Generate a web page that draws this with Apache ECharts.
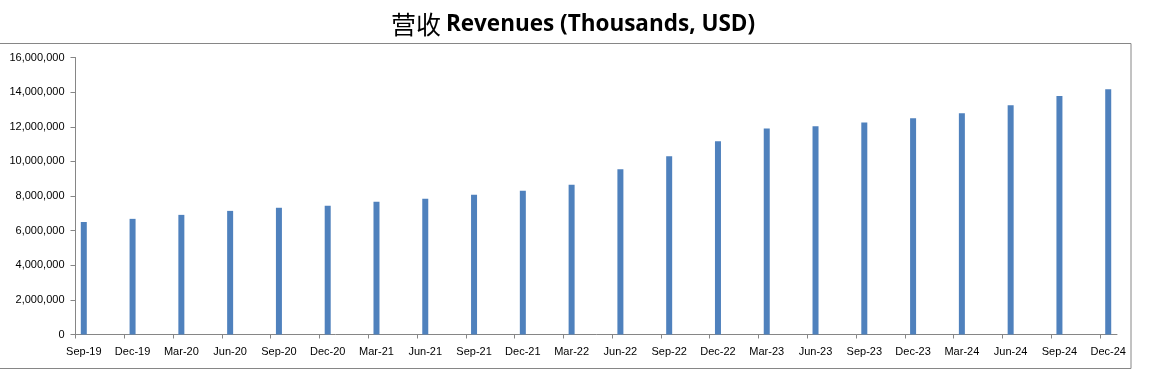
<!DOCTYPE html>
<html>
<head>
<meta charset="utf-8">
<script src="https://cdn.jsdelivr.net/npm/echarts@6/dist/echarts.min.js"></script>
<style>
html,body{margin:0;padding:0;background:#fff;}
#chart{width:1153px;height:373px;}
</style>
</head>
<body>
<div id="chart"></div>
<script>
const titleCn = '营收';
const titleEn = 'Revenues (Thousands, USD)';
const categories = ['Sep-19','Dec-19','Mar-20','Jun-20','Sep-20','Dec-20','Mar-21','Jun-21','Sep-21','Dec-21','Mar-22','Jun-22','Sep-22','Dec-22','Mar-23','Jun-23','Sep-23','Dec-23','Mar-24','Jun-24','Sep-24','Dec-24'];
const revenues = [6500000,6680000,6910000,7140000,7320000,7430000,7670000,7840000,8070000,8310000,8650000,9550000,10300000,11160000,11900000,12030000,12250000,12490000,12780000,13240000,13770000,14170000];
const yTicks = [0,2000000,4000000,6000000,8000000,10000000,12000000,14000000,16000000];

const tickOffset = 0.17;
const chart = echarts.init(document.getElementById('chart'), null, {renderer:'canvas'});
const axisColor = '#868686';
const labelFont = '"Liberation Sans", Arial, sans-serif';

chart.setOption({
  animation: false,
  backgroundColor: '#fff',
  title: {
    text: '{cn|' + titleCn + '} {en|' + titleEn + '}',
    left: 568,
    top: 7,
    textAlign: 'center',
    textStyle: {
      rich: {
        cn: {fontFamily: '"Noto Sans CJK SC", sans-serif', fontWeight: 'normal', fontSize: 25, color: '#000'},
        en: {fontFamily: '"Open Sans", sans-serif', fontWeight: 'bold', fontSize: 22.5, color: '#000'}
      }
    }
  },
  graphic: [{
    type: 'rect',
    shape: {x: -2, y: 43.5, width: 1133, height: 325},
    style: {fill: 'none', stroke: axisColor, lineWidth: 1},
    silent: true,
    z: -1
  }],
  grid: {left: 75.5, right: 36, top: 57.5, bottom: 38.5, containLabel: false},
  xAxis: {
    type: 'value',
    min: -tickOffset,
    max: categories.length - 1 + 0.18,
    axisLine: {show: true, onZero: false, lineStyle: {color: axisColor, width: 1}},
    axisTick: {
      show: true,
      length: 4,
      inside: false,
      lineStyle: {color: axisColor},
      customValues: categories.map((c, i) => i - tickOffset)
    },
    axisLabel: {
      show: true,
      customValues: categories.map((c, i) => i),
      formatter: v => categories[Math.round(v)] || '',
      fontFamily: labelFont,
      fontSize: 11,
      color: '#000',
      margin: 12
    },
    splitLine: {show: false}
  },
  yAxis: {
    type: 'value',
    min: yTicks[0],
    max: yTicks[yTicks.length - 1],
    interval: yTicks[1] - yTicks[0],
    axisLine: {show: true, onZero: false, lineStyle: {color: axisColor, width: 1}},
    axisTick: {show: true, length: 5, lineStyle: {color: axisColor}},
    axisLabel: {
      formatter: v => v.toLocaleString('en-US'),
      fontFamily: labelFont,
      fontSize: 11,
      color: '#000',
      margin: 11
    },
    splitLine: {show: false}
  },
  series: [{
    type: 'bar',
    data: revenues.map((v, i) => [i, v]),
    barWidth: 6,
    itemStyle: {color: '#4F81BD'}
  }]
});
</script>
</body>
</html>
